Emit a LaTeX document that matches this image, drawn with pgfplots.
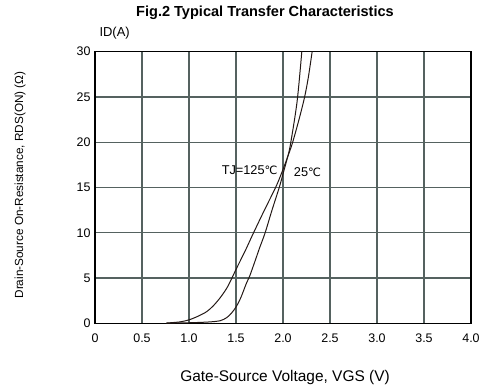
\documentclass[border=0pt]{standalone}
\usepackage{fontspec}
\setmainfont{Liberation Sans}
\newfontfamily\dejavu{DejaVu Sans}
\usepackage{pgfplots}
\pgfplotsset{compat=1.18}
\definecolor{gridc}{RGB}{85,98,96}
\definecolor{curvec}{RGB}{35,24,21}
\begin{document}
\begin{tikzpicture}
\begin{axis}[
  at={(0,0)}, anchor=south west,
  scale only axis, width=376bp, height=271.6bp,
  xmin=0, xmax=4, ymin=0, ymax=30,
  xtick={0,0.5,...,4}, ytick={0,5,...,30},
  xticklabels={0,0.5,1.0,1.5,2.0,2.5,3.0,3.5,4.0},
  grid=major, major grid style={draw=gridc, line width=1.1pt},
  major tick length=0pt,
  axis line style={draw=black, line width=1.6pt},
  tick label style={font=\fontsize{12.5}{13}\selectfont},
  /pgf/number format/assume math mode=true,
  xticklabel style={yshift=-7bp},
  yticklabel style={xshift=-1bp},
  clip=true,
]
\addplot[curvec, line width=1pt, smooth, tension=0.5] coordinates {
 (0.76,0.03) (0.9,0.15) (1.0,0.38) (1.1,0.8) (1.19,1.3) (1.26,1.95) (1.33,2.8)
 (1.40,3.85) (1.45,4.85) (1.5,5.95) (1.6,8.05) (1.68,9.85) (1.8,12.45) (1.93,15.2)
 (2.0,17.0) (2.05,18.4) (2.10,19.9) (2.17,22.5) (2.23,25) (2.27,27.2) (2.31,30)
};
\addplot[curvec, line width=1pt, smooth, tension=0.5] coordinates {
 (0.76,0.02) (1.0,0.06) (1.2,0.14) (1.33,0.28) (1.40,0.62) (1.45,1.1) (1.5,1.8)
 (1.55,2.8) (1.61,4.4) (1.645,5.2) (1.7,6.8) (1.75,8.3) (1.81,10) (1.88,12.4)
 (1.96,15) (2.0,16.5) (2.05,18.4) (2.08,19.8) (2.15,24.5) (2.2,30)
};
\node[font=\fontsize{12.8}{14}\selectfont] at (axis cs:1.645,16.9) {TJ=125{\dejavu\fontsize{11.5}{14}\selectfont ℃}};
\node[font=\fontsize{12.8}{14}\selectfont] at (axis cs:2.26,16.7) {25{\dejavu\fontsize{11.5}{14}\selectfont ℃}};
\end{axis}
\node[font=\bfseries\fontsize{14.6}{16}\selectfont] at (170bp,311bp) {Fig.2 Typical Transfer Characteristics};
\node[font=\fontsize{13}{14}\selectfont, anchor=west] at (1bp,290bp) {ID(A)};
\node[font=\fontsize{11.8}{13}\selectfont, rotate=90] at (-75bp,138.3bp) {Drain-Source On-Resistance, RDS(ON) (Ω)};
\node[font=\fontsize{15.5}{17}\selectfont] at (190bp,-54.7bp) {Gate-Source Voltage, VGS (V)};
\pgfresetboundingbox
\path[use as bounding box] (-95bp,-65.7bp) rectangle (393bp,323.3bp);
\end{tikzpicture}
\end{document}
